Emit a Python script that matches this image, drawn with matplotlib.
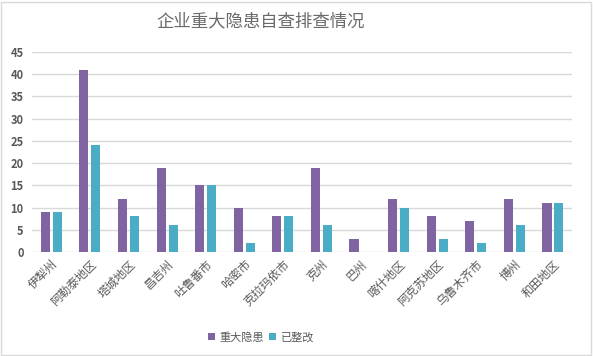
import matplotlib
matplotlib.use("Agg")
import matplotlib.pyplot as plt
import numpy as np
from matplotlib.patches import Rectangle

plt.rcParams['font.family'] = ['Noto Sans CJK SC', 'DejaVu Sans']

categories = ["伊犁州", "阿勒泰地区", "塔城地区", "昌吉州", "吐鲁番市", "哈密市", "克拉玛依市",
              "克州", "巴州", "喀什地区", "阿克苏地区", "乌鲁木齐市", "博州", "和田地区"]
major = [9, 41, 12, 19, 15, 10, 8, 19, 3, 12, 8, 7, 12, 11]
fixed = [9, 24, 8, 6, 15, 2, 8, 6, 0, 10, 3, 2, 6, 11]
yticks = [0, 5, 10, 15, 20, 25, 30, 35, 40, 45]

fig = plt.figure(figsize=(5.93, 3.56), dpi=100)
ax = fig.add_axes([0.054, 0.292, 0.911, 0.562])

x = np.arange(len(categories))
w = 0.235
off = 0.155
ax.bar(x - off, major, w, color="#8064A2", label="重大隐患", zorder=3)
ax.bar(x + off, fixed, w, color="#4BACC6", label="已整改", zorder=3)

ax.set_xlim(-0.5, len(categories) - 0.5)
ax.set_ylim(0, 45)
ax.set_yticks(yticks)
ax.yaxis.grid(True, color="#D9D9D9", linewidth=1, zorder=0)
for s in ax.spines.values():
    s.set_visible(False)
ax.tick_params(axis='both', length=0)
ax.tick_params(axis='y', labelsize=8, labelcolor="#595959", pad=6)
ax.set_xticks(x)
ax.set_xticklabels(categories, rotation=45, ha='right', rotation_mode='anchor',
                   fontsize=8.5, color="#595959")
ax.tick_params(axis='x', pad=4)
for lbl in ax.get_yticklabels():
    lbl.set_fontweight('bold')

fig.text(0.439, 0.941, "企业重大隐患自查排查情况", ha='center', va='center',
         fontsize=12.5, color="#6a6a6a")

leg = fig.legend(loc='center', bbox_to_anchor=(0.44, 0.053), ncol=2, frameon=False,
                 fontsize=8, handlelength=0.7, handleheight=0.7, handletextpad=0.4,
                 columnspacing=0.4)
for t in leg.get_texts():
    t.set_color("#595959")

fig.patches.append(Rectangle((0.002, 0.003), 0.994, 0.992, transform=fig.transFigure,
                             fill=False, edgecolor="#D9D9D9", linewidth=1))

fig.savefig("out.png", dpi=100)
